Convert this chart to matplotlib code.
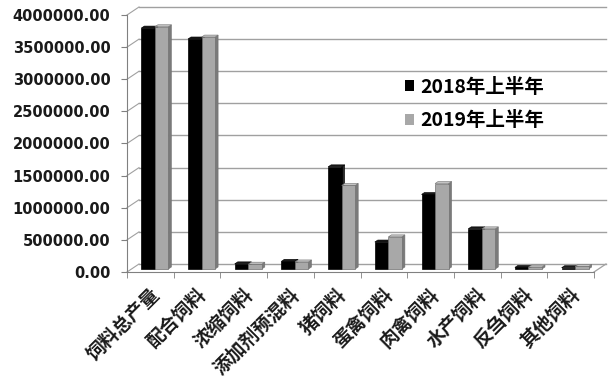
import matplotlib
matplotlib.use('Agg')
import matplotlib.pyplot as plt
from matplotlib.patches import Polygon, Patch
from matplotlib.transforms import ScaledTranslation
from matplotlib.font_manager import FontProperties
import numpy as np

categories = ['饲料总产量', '配合饲料', '浓缩饲料', '添加剂预混料', '猪饲料',
              '蛋禽饲料', '肉禽饲料', '水产饲料', '反刍饲料', '其他饲料']
h1_2018 = [3750000, 3580000, 80000, 120000, 1590000, 420000, 1160000, 625000, 25000, 20000]
h1_2019 = [3770000, 3610000, 75000, 110000, 1300000, 500000, 1330000, 625000, 30000, 40000]
series_names = ['2018年上半年', '2019年上半年']
yticks = np.arange(0, 4000001, 500000)
ytick_labels = [f'{v:.2f}' for v in yticks]

W, H = 610, 386
fig = plt.figure(figsize=(W / 100, H / 100), dpi=100)
left_px, right_px, top_px, bottom_px = 127, 594, 15, 272
ax = fig.add_axes([left_px / W, 1 - bottom_px / H,
                   (right_px - left_px) / W, (bottom_px - top_px) / H])
n = len(categories)
ymax = 4000000
ax.set_xlim(-0.5, n - 0.5)
ax.set_ylim(0, ymax)
ppx = n / (right_px - left_px)
ppy = ymax / (bottom_px - top_px)
DX, DY = 12, 8          # depth of the 3D box in px
grid_c = '#a0a0a0'

# back wall gridlines and side wall diagonals
for v in yticks:
    ax.plot([-0.5 + DX * ppx, n - 0.5 + DX * ppx], [v + DY * ppy] * 2,
            color=grid_c, lw=1.0, clip_on=False, zorder=0.5)
    ax.plot([-0.5, -0.5 + DX * ppx], [v, v + DY * ppy],
            color=grid_c, lw=0.8, clip_on=False, zorder=0.5)
# floor right edge
ax.plot([n - 0.5, n - 0.5 + DX * ppx], [0, DY * ppy], color=grid_c, lw=0.9,
        clip_on=False, zorder=0.5)

# bars
bw = 0.29
boff_x = 4.5 * ppx
boff_y = 3 * ppy
sdx, sdy = 3 * ppx, 2 * ppy
styles = [dict(front='#000000', side='#2a2a2a', top='#1a1a1a', edge='#000000'),
          dict(front='#a8a8a8', side='#7a7a7a', top='#c4c4c4', edge='#707070')]
x = np.arange(n)
for s, vals in enumerate([h1_2018, h1_2019]):
    st = styles[s]
    xs = x - bw + s * bw + boff_x
    ax.bar(xs, vals, width=bw, bottom=boff_y, align='edge', color=st['front'],
           edgecolor=st['edge'], linewidth=0.5, zorder=3 + s * 2, clip_on=False)
    for xi, v in zip(xs, vals):
        x1 = xi + bw
        t = boff_y + v
        ax.add_patch(Polygon([[x1, boff_y], [x1 + sdx, boff_y + sdy],
                              [x1 + sdx, t + sdy], [x1, t]], closed=True,
                             facecolor=st['side'], edgecolor=st['edge'], lw=0.4,
                             zorder=2.9 + s * 2, clip_on=False))
        ax.add_patch(Polygon([[xi, t], [x1, t], [x1 + sdx, t + sdy],
                              [xi + sdx, t + sdy]], closed=True,
                             facecolor=st['top'], edgecolor=st['edge'], lw=0.4,
                             zorder=2.9 + s * 2, clip_on=False))

# axes styling
for sp in ['top', 'right']:
    ax.spines[sp].set_visible(False)
ax.spines['left'].set_color('#808080')
ax.spines['bottom'].set_color('#808080')
ax.set_facecolor('none')

ax.set_yticks(yticks)
ax.set_yticklabels(ytick_labels, fontsize=10.5, fontweight='bold',
                   family='DejaVu Sans', color='#1a1a1a')
ax.tick_params(axis='y', length=4, color='#808080', pad=8)

cjk = FontProperties(family=['Noto Sans CJK SC', 'DejaVu Sans'], size=13.5, weight='bold')
ax.set_xticks(x)
ax.set_xticklabels(categories, rotation=45, ha='right', va='center',
                   rotation_mode='anchor', fontproperties=cjk, color='#1a1a1a')
ax.tick_params(axis='x', length=0, pad=14)
for lab in ax.get_xticklabels():
    lab.set_transform(lab.get_transform() + ScaledTranslation(6 / 100, 0, fig.dpi_scale_trans))
ax.set_xticks(np.arange(n + 1) - 0.5, minor=True)
ax.tick_params(axis='x', which='minor', length=4, color='#808080')

handles = [Patch(facecolor=styles[0]['front'], edgecolor='none'),
           Patch(facecolor=styles[1]['front'], edgecolor='none')]
ax.legend(handles=handles, labels=series_names, frameon=False,
          prop=FontProperties(family=['Noto Sans CJK SC', 'DejaVu Sans'], size=14, weight='bold'),
          handlelength=0.5, handleheight=0.5, handletextpad=0.3, labelspacing=0.75,
          loc='upper left', bbox_to_anchor=(395 / W, 1 - 68 / H),
          bbox_transform=fig.transFigure, borderpad=0)

fig.savefig('out.png', dpi=100)
